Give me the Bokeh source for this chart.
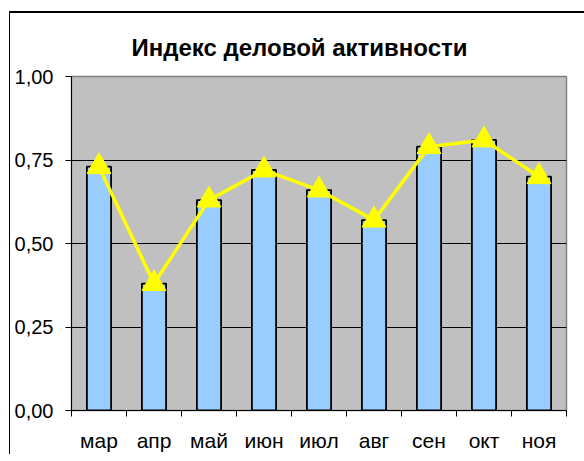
from bokeh.plotting import figure
from bokeh.models import FixedTicker, Title
from bokeh.embed import file_html
from bokeh.resources import INLINE

# ---- data ----
months = ["мар", "апр", "май", "июн", "июл", "авг", "сен", "окт", "ноя"]
values = [0.73, 0.38, 0.63, 0.72, 0.66, 0.57, 0.79, 0.81, 0.70]
y_ticks = [0.0, 0.25, 0.5, 0.75, 1.0]
y_labels = ["0,00", "0,25", "0,50", "0,75", "1,00"]
title_text = "Индекс деловой активности"

xs = [i + 0.5 for i in range(len(months))]
FONT = "Liberation Sans"

p = figure(
    output_backend="svg", toolbar_location=None,
    frame_width=495, frame_height=334,
    x_range=(0, len(months)), y_range=(0, 1),
)
p.min_border_left = 61
p.min_border_right = 18
p.min_border_top = 63
p.min_border_bottom = 43
p.styles = {"margin-left": "9px", "margin-top": "12px",
            "border-left": "1px solid black", "border-top": "1px solid black",
            "box-shadow": "0 -1px 0 0 black"}

p.background_fill_color = "#C0C0C0"
p.border_fill_color = None
p.outline_line_color = "#808080"
p.outline_line_width = 1.5

p.title = Title(text=title_text, align="left", offset=60, standoff=32,
                text_font=FONT, text_font_size="24px", text_font_style="bold",
                text_color="black")

# grid
p.xgrid.visible = False
p.ygrid.ticker = FixedTicker(ticks=[0.25, 0.5, 0.75])
p.ygrid.grid_line_color = "black"
p.ygrid.grid_line_width = 1

# y axis
ya = p.yaxis[0]
ya.ticker = FixedTicker(ticks=y_ticks, minor_ticks=[])
ya.major_label_overrides = {t: l for t, l in zip(y_ticks, y_labels)}
ya.major_label_text_font = FONT
ya.major_label_text_font_size = "20px"
ya.major_label_text_color = "black"
ya.major_tick_out = 6
ya.major_tick_in = 0
ya.minor_tick_out = 0
ya.minor_tick_in = 0
ya.axis_line_color = "black"
ya.major_tick_line_color = "black"
ya.major_label_standoff = 12

# x axis
xa = p.xaxis[0]
xa.ticker = FixedTicker(ticks=xs, minor_ticks=list(range(len(months) + 1)))
xa.major_label_overrides = {x: m for x, m in zip(xs, months)}
xa.major_label_text_font = FONT
xa.major_label_text_font_size = "21px"
xa.major_label_text_color = "black"
xa.major_tick_out = 0
xa.major_tick_in = 0
xa.minor_tick_out = 6
xa.minor_tick_in = 0
xa.minor_tick_line_color = "black"
xa.axis_line_color = "black"
xa.major_label_standoff = 12

# bars
p.vbar(x=xs, top=values, width=0.44, bottom=0,
       fill_color="#99CCFF", line_color="black", line_width=1.8)

# line + markers
p.line(xs, values, line_color="#FFFF00", line_width=3.5)
p.scatter(xs, values, marker="triangle", size=24,
          fill_color="#FFFF00", line_color="#FFFF00")

open("out.html", "w").write(file_html(p, INLINE))
